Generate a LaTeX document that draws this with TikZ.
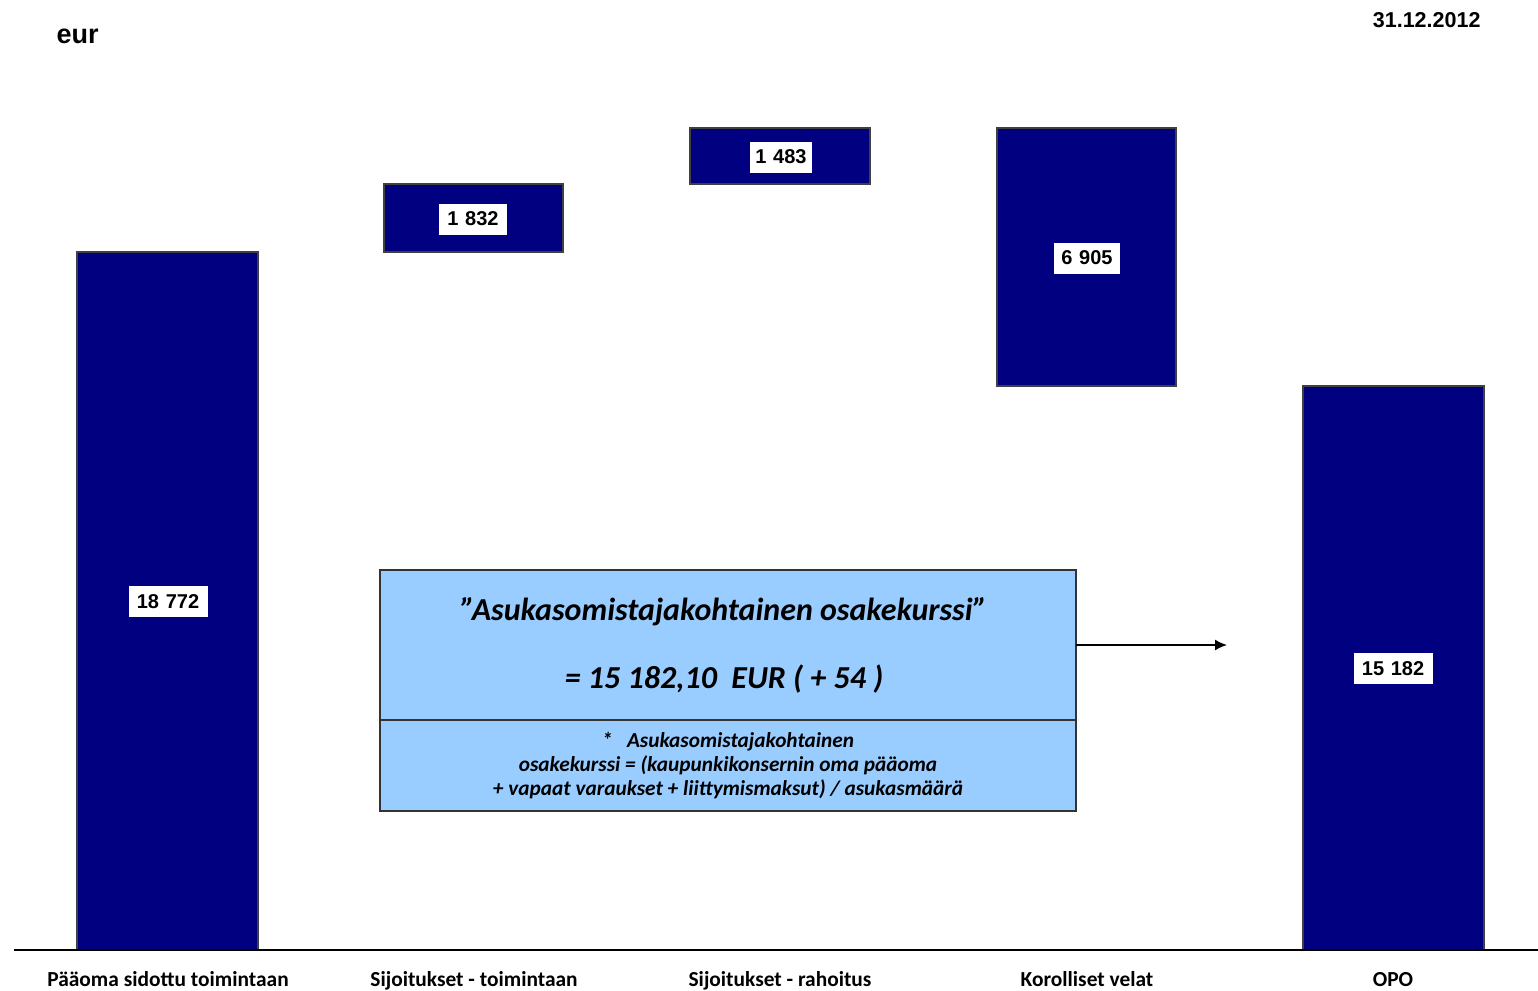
\documentclass[tikz,border=0pt]{standalone}
\usepackage{fontspec}
\setmainfont{Carlito}
\newfontfamily\arial{Liberation Sans}
\usetikzlibrary{arrows.meta}
\definecolor{navybar}{HTML}{000080}
\definecolor{infoblue}{HTML}{99CCFF}
\begin{document}
\begin{tikzpicture}[x=1pt,y=-1pt,
  bar/.style={draw=black!75, line width=1.2pt, fill=navybar, inner sep=0pt, outer sep=0pt},
  val/.style={fill=white, inner sep=0pt, minimum height=31pt, text width=#1, align=center, font=\arial\bfseries\fontsize{20}{23}\selectfont},
  cat/.style={font=\bfseries\fontsize{21.4}{24}\selectfont, anchor=base},
  infobox/.style={draw=black!80, line width=1.2pt, fill=infoblue, inner sep=0pt, outer sep=0pt, align=center, font=\bfseries\itshape}
]
\useasboundingbox (0,0) rectangle (1538,990);
% bars
\node[bar, minimum width=181pt, minimum height=698pt] (b1) at (167.5,601) {};
\node[bar, minimum width=179pt, minimum height=68pt] (b2) at (473.5,218) {};
\node[bar, minimum width=180pt, minimum height=56pt] (b3) at (780,156) {};
\node[bar, minimum width=179pt, minimum height=258pt] (b4) at (1086.5,257) {};
\node[bar, minimum width=181pt, minimum height=564pt] (b5) at (1393.5,668) {};
% value labels
\node[val=79pt] (v1) at (168,601.5) {18 772};
\node[val=68pt] (v2) at (473,219) {1 832};
\node[val=62pt] (v3) at (781,157) {1 483};
\node[val=66pt] (v4) at (1087,258) {6 905};
\node[val=79pt] (v5) at (1393,668.5) {15 182};
% axis
\coordinate (axl) at (14,950);
\coordinate (axr) at (1538,950);
\draw[line width=2pt] (axl) -- (axr);
% category labels
\node[cat] (c1) at (168,986) {Pääoma sidottu toimintaan};
\node[cat] (c2) at (474,986) {Sijoitukset - toimintaan};
\node[cat] (c3) at (780,986) {Sijoitukset - rahoitus};
\node[cat] (c4) at (1087,986) {Korolliset velat};
\node[cat] (c5) at (1393,986) {OPO};
% header
\node[font=\arial\bfseries\fontsize{27}{30}\selectfont, anchor=west] (eur) at (53,36) {eur};
\node[font=\arial\bfseries\fontsize{21.5}{24}\selectfont, anchor=east] (date) at (1484,20) {31.12.2012};
% info boxes
\node[infobox, minimum width=696pt, minimum height=150pt] (top) at (728,645) {};
\node[font=\bfseries\itshape\fontsize{32}{36}\selectfont, anchor=base] (t1) at (724,620) {”Asukasomistajakohtainen osakekurssi”};
\node[font=\bfseries\itshape\fontsize{32}{36}\selectfont] (t2) at (724,679) {= 15 182,10\ \ EUR ( + 54 )};
\node[infobox, minimum width=696pt, minimum height=91pt, font=\bfseries\itshape\fontsize{21.3}{24}\selectfont] (bot) at (728,765.5)
  {*\ \ \ Asukasomistajakohtainen\\osakekurssi = (kaupunkikonsernin oma pääoma\\+ vapaat varaukset + liittymismaksut) / asukasmäärä};
% arrow
\coordinate (arrend) at (1227,645);
\draw[line width=1.6pt, -{Latex[length=12pt,width=11pt]}] (top.east) -- (arrend);
\end{tikzpicture}
\end{document}
